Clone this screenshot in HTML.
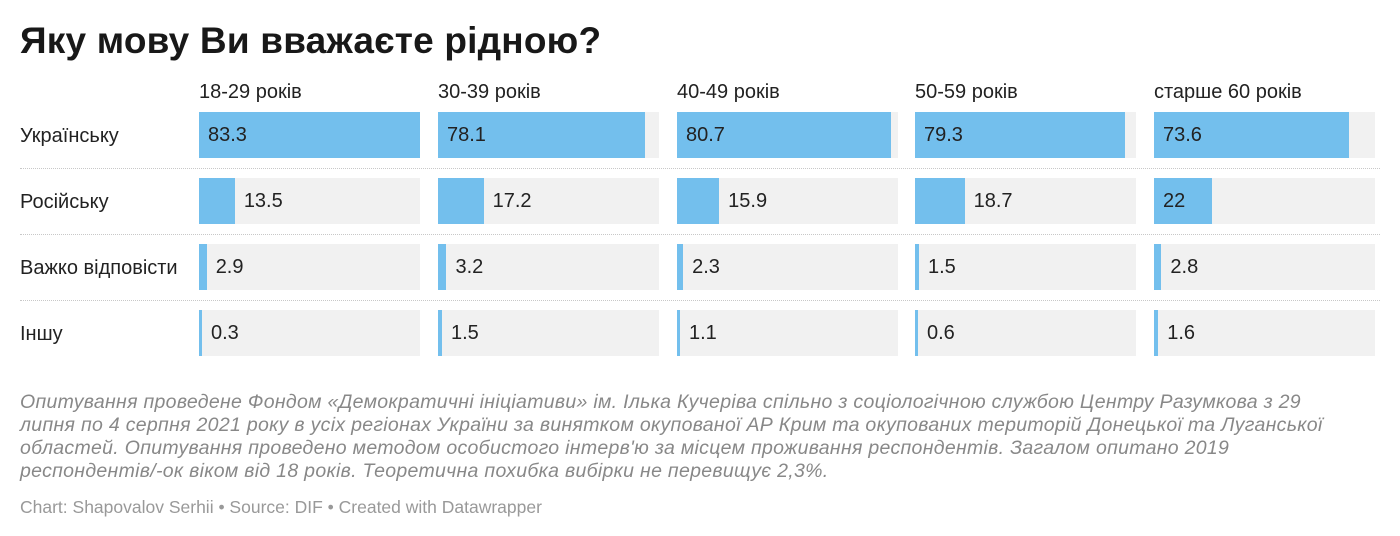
<!DOCTYPE html>
<html><head><meta charset="utf-8"><style>
body{margin:0;width:1400px;height:536px;background:#fff;font-family:"Liberation Sans",sans-serif;color:#222;position:relative;overflow:hidden}
.a{position:absolute}
h1{position:absolute;left:20px;top:20px;margin:0;font-size:37px;font-weight:bold;color:#181818;letter-spacing:0.2px}
.hd{font-size:20px;top:81px}
.lb{font-size:20px;left:20px}
.bg{background:#f1f1f1;height:46px;width:221px}
.br{background:#73bfed;height:46px;position:absolute;left:0;top:0}
.v{position:absolute;top:12px;font-size:20px;color:#222}
.sep{left:20px;width:1360px;border-top:1px dotted #c8c8c8;height:0}
.fn{left:20px;top:391px;font-size:19.5px;font-style:italic;color:#888;line-height:23px;white-space:nowrap;letter-spacing:0.3px}
.src{left:20px;top:497px;font-size:17.5px;color:#999}
</style></head><body>
<h1>Яку мову Ви вважаєте рідною?</h1>
<div class="a hd" style="left:199px">18-29 років</div>
<div class="a hd" style="left:438px">30-39 років</div>
<div class="a hd" style="left:677px">40-49 років</div>
<div class="a hd" style="left:915px">50-59 років</div>
<div class="a hd" style="left:1154px">старше 60 років</div>
<div class="a lb" style="top:125px">Українську</div>
<div class="a lb" style="top:191px">Російську</div>
<div class="a lb" style="top:257px">Важко відповісти</div>
<div class="a lb" style="top:323px">Іншу</div>
<div class="a sep" style="top:168px"></div>
<div class="a sep" style="top:234px"></div>
<div class="a sep" style="top:300px"></div>
<div id="c"></div>
<div class="a fn">Опитування проведене Фондом «Демократичні ініціативи» ім. Ілька Кучеріва спільно з соціологічною службою Центру Разумкова з 29<br>липня по 4 серпня 2021 року в усіх регіонах України за винятком окупованої АР Крим та окупованих територій Донецької та Луганської<br>областей. Опитування проведено методом особистого інтерв'ю за місцем проживання респондентів. Загалом опитано 2019<br>респондентів/-ок віком від 18 років. Теоретична похибка вибірки не перевищує 2,3%.</div>
<div class="a src">Chart: Shapovalov Serhii • Source: DIF • Created with Datawrapper</div>
<script>
var xs=[199,438,677,915,1154],ys=[112,178,244,310];
var d=[[83.3,78.1,80.7,79.3,73.6],[13.5,17.2,15.9,18.7,22],[2.9,3.2,2.3,1.5,2.8],[0.3,1.5,1.1,0.6,1.6]];
var h='';
for(var r=0;r<4;r++)for(var c=0;c<5;c++){var v=d[r][c],w=Math.max(3,v/83.3*221);
var inside=w>50;var tx=inside?9:w+9;
h+='<div class="a bg" style="left:'+xs[c]+'px;top:'+ys[r]+'px"><div class="br" style="width:'+w+'px"></div><div class="v" style="left:'+tx+'px">'+v+'</div></div>';}
document.getElementById('c').innerHTML=h;
</script>
</body></html>
